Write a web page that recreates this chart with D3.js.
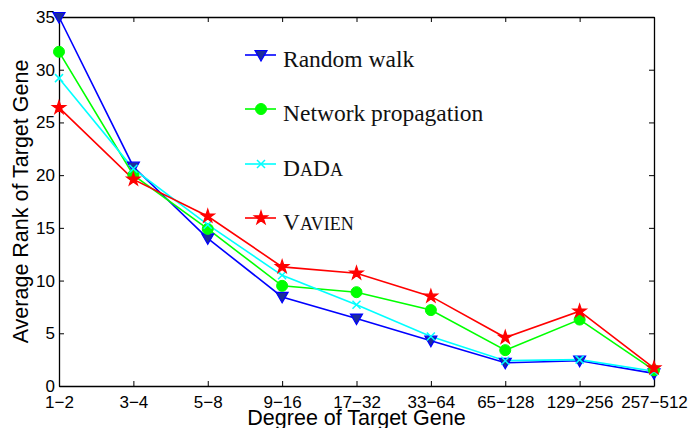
<!DOCTYPE html>
<html>
<head>
<meta charset="utf-8">
<script src="https://cdn.jsdelivr.net/npm/d3@7"></script>
<style>
body { margin: 0; background: #fff; }
svg { display: block; }
.tick text { font-family: "Liberation Sans", Arial, sans-serif; font-size: 17px; fill: #000; }
.label { font-family: "Liberation Sans", Arial, sans-serif; font-size: 21.5px; fill: #000; }
.legend text { font-family: "Liberation Serif", "Times New Roman", serif; font-size: 23.5px; fill: #111; }
</style>
</head>
<body>
<svg></svg>
<script>
// categories on the x axis
var degrees = ["1\u22122","3\u22124","5\u22128","9\u221216","17\u221232","33\u221264","65\u2212128","129\u2212256","257\u2212512"]
var yTicks = [0,5,10,15,20,25,30,35]

// average rank per method
var randomWalk = [35.0,20.8,14.0,8.45,6.4,4.3,2.2,2.4,1.2]
var networkProp = [31.7,20.0,14.9,9.5,8.9,7.2,3.4,6.3,1.5]
var dada = [29.2,20.6,15.3,10.5,7.7,4.7,2.4,2.5,1.4]
var vavien = [26.4,19.6,16.1,11.3,10.7,8.5,4.6,7.1,1.7]

// legend names, small caps parts split as [big, small] pairs
var seriesNames = [
    [["Random walk",""]],
    [["Network propagation",""]],
    [["D","A"],["D","A"]],
    [["V","AVIEN"]]
]

var screen = {width:691,height:428}
var margins = {left:59,right:37,top:17,bottom:42}
var graph = {
    width:screen.width-margins.left-margins.right,
    height:screen.height-margins.top-margins.bottom
}

var svg = d3.select("svg")
    .attr("width",screen.width)
    .attr("height",screen.height)

var xScale = d3.scalePoint()
    .domain(degrees)
    .range([0,graph.width])

var yScale = d3.scaleLinear()
    .domain([0,35])
    .range([graph.height,0])

var series = [
    {name:seriesNames[0], values:randomWalk, color:"#0000ff", fill:"#1c2c9c", marker:"tri"},
    {name:seriesNames[1], values:networkProp, color:"#00ff00", fill:"#00ff00", marker:"circle"},
    {name:seriesNames[2], values:dada, color:"#00ffff", fill:"none", marker:"x"},
    {name:seriesNames[3], values:vavien, color:"#ff0000", fill:"#ff0000", marker:"star"}
]

var makeTranslateString = function(x,y)
{
    return "translate("+x+","+y+")";
}

var drawMarker = function(g,s)
{
    if (s.marker=="tri") {
        g.append("path").attr("d","M-6,-4.5L6,-4.5L0,6Z")
            .attr("fill",s.fill).attr("stroke",s.color).attr("stroke-width",1.2)
    } else if (s.marker=="circle") {
        g.append("circle").attr("r",5.5).attr("fill",s.fill).attr("stroke",s.color)
    } else if (s.marker=="x") {
        g.append("path").attr("d","M-4,-4L4,4M-4,4L4,-4")
            .attr("stroke",s.color).attr("stroke-width",1.5)
    } else {
        g.append("path")
            .attr("d",d3.symbol().type(d3.symbolStar).size(55))
            .attr("fill",s.fill).attr("stroke",s.color).attr("stroke-width",1.2)
    }
}

var plot = svg.append("g")
    .attr("transform",makeTranslateString(margins.left,margins.top))

// axes, box with inward ticks
var xAxis = d3.axisBottom(xScale).tickSizeInner(-5).tickSizeOuter(0).tickPadding(10)
var xTop = d3.axisTop(xScale).tickSizeInner(-5).tickSizeOuter(0).tickFormat("")
var yAxis = d3.axisLeft(yScale).tickValues(yTicks).tickSizeInner(-5).tickSizeOuter(0).tickPadding(4)
var yRight = d3.axisRight(yScale).tickValues(yTicks).tickSizeInner(-5).tickSizeOuter(0).tickFormat("")

plot.append("g").attr("transform",makeTranslateString(0,graph.height)).call(xAxis)
plot.append("g").call(xTop)
plot.append("g").call(yAxis)
plot.append("g").attr("transform",makeTranslateString(graph.width,0)).call(yRight)
plot.selectAll(".domain").attr("stroke","#000").attr("stroke-width",1.3)
plot.selectAll(".tick line").attr("stroke","#000")

var line = d3.line()
    .x(function(d,i){ return xScale(degrees[i]) })
    .y(function(d){ return yScale(d) })

series.forEach(function(s)
{
    plot.append("path")
        .datum(s.values)
        .attr("fill","none")
        .attr("stroke",s.color)
        .attr("stroke-width",1.6)
        .attr("d",line)
})

series.forEach(function(s)
{
    plot.selectAll(null)
        .data(s.values)
        .enter()
        .append("g")
        .attr("transform",function(d,i){ return makeTranslateString(xScale(degrees[i]),yScale(d)) })
        .each(function(){ drawMarker(d3.select(this),s) })
})

// labels
svg.append("text")
    .classed("label",true)
    .attr("text-anchor","middle")
    .attr("x",margins.left+graph.width/2)
    .attr("y",425)
    .text("Degree of Target Gene")

svg.append("g")
    .attr("transform",makeTranslateString(28,margins.top+graph.height/2))
    .append("text")
    .classed("label",true)
    .attr("text-anchor","middle")
    .attr("transform","rotate(270)")
    .text("Average Rank of Target Gene")

// legend
var legendY = [55,109,164,218]
var legend = svg.append("g").classed("legend",true)
var entries = legend.selectAll("g")
    .data(series)
    .enter()
    .append("g")
    .attr("transform",function(s,i){ return makeTranslateString(245,legendY[i]) })

entries.append("line")
    .attr("x1",0).attr("x2",31)
    .attr("stroke",function(s){ return s.color })
    .attr("stroke-width",1.6)
entries.append("g")
    .attr("transform",makeTranslateString(16,0))
    .each(function(s){ drawMarker(d3.select(this),s) })
entries.append("text")
    .attr("x",38)
    .attr("y",12)
    .each(function(s)
    {
        var t = d3.select(this)
        s.name.forEach(function(part)
        {
            t.append("tspan").text(part[0])
            if (part[1]) t.append("tspan").style("font-size","18px").text(part[1])
        })
    })
</script>
</body>
</html>
